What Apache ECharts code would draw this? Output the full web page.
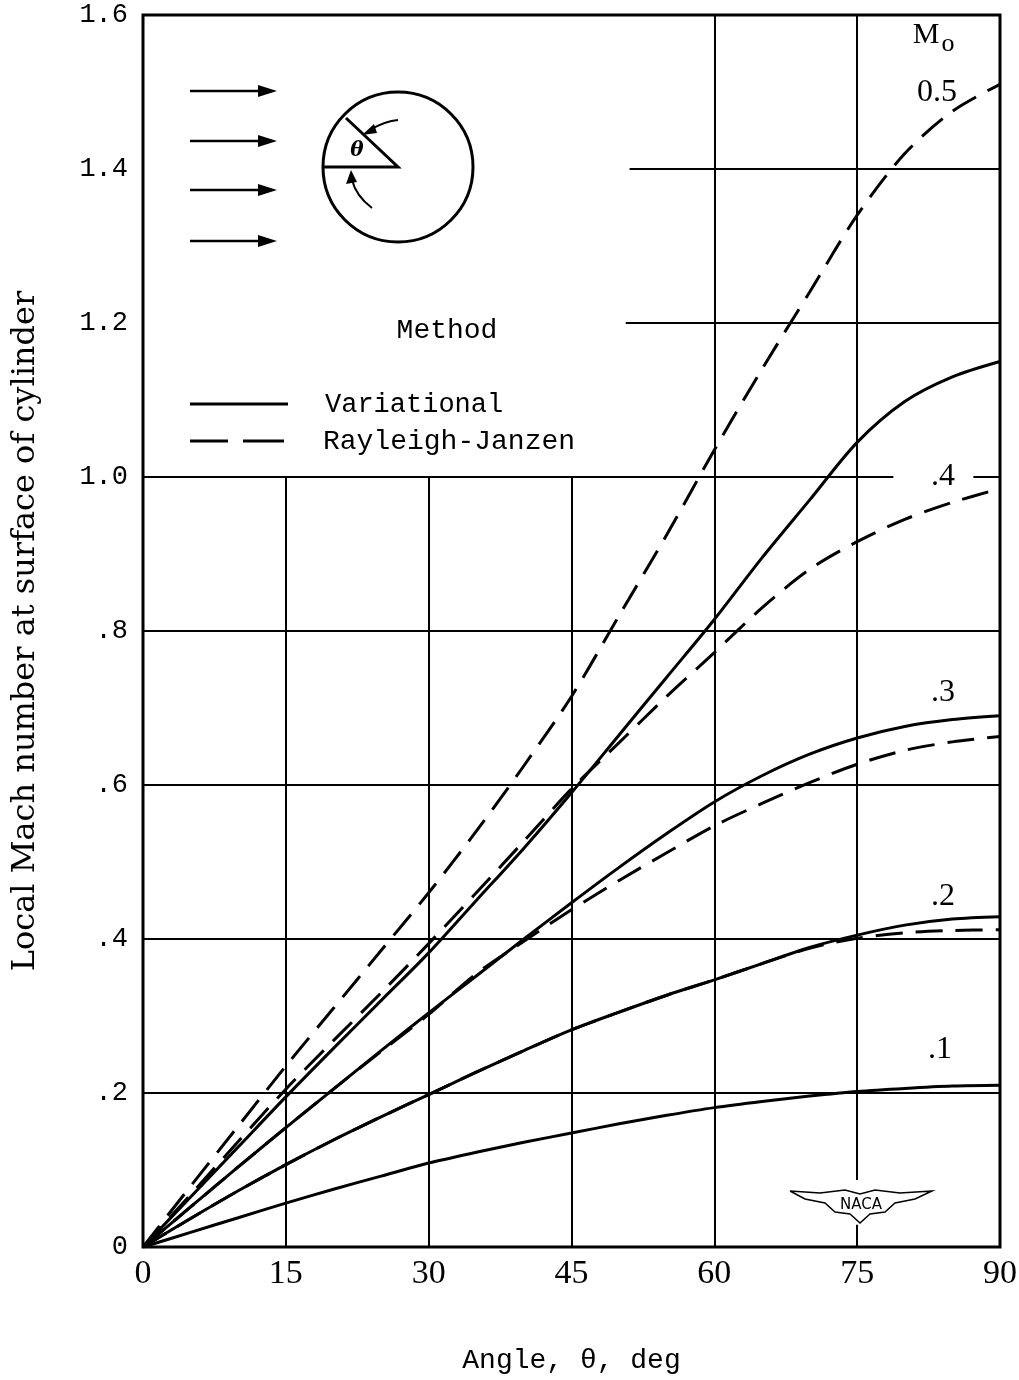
<!DOCTYPE html>
<html><head><meta charset="utf-8">
<script src="https://cdn.jsdelivr.net/npm/echarts@6/dist/echarts.min.js"></script>
<style>html,body{margin:0;padding:0;background:#fff}#c{width:1019px;height:1380px}</style>
</head><body><div id="c"></div>
<script>
// Angle, theta (deg)
const theta = [0, 5, 10, 15, 20, 25, 30, 35, 40, 45, 50, 55, 60, 65, 70, 75, 80, 85, 90];
// Variational method (solid)
const var01 = [0, 0.019, 0.038, 0.057, 0.075, 0.092, 0.109, 0.123, 0.136, 0.148, 0.160, 0.171, 0.181, 0.189, 0.196, 0.202, 0.206, 0.209, 0.210];
const var02 = [0, 0.037, 0.073, 0.107, 0.139, 0.169, 0.198, 0.227, 0.255, 0.282, 0.305, 0.327, 0.347, 0.368, 0.389, 0.405, 0.418, 0.426, 0.429];
const var03 = [0, 0.052, 0.104, 0.155, 0.205, 0.255, 0.304, 0.352, 0.400, 0.447, 0.493, 0.537, 0.578, 0.612, 0.640, 0.661, 0.676, 0.685, 0.690];
const var04 = [0, 0.065, 0.130, 0.195, 0.258, 0.320, 0.382, 0.450, 0.518, 0.590, 0.665, 0.740, 0.815, 0.895, 0.970, 1.045, 1.098, 1.130, 1.150];
// Rayleigh-Janzen method (dashed)
const rj02 = [0, 0.037, 0.073, 0.107, 0.139, 0.169, 0.198, 0.227, 0.255, 0.282, 0.305, 0.327, 0.347, 0.368, 0.388, 0.401, 0.408, 0.411, 0.412];
const rj03 = [0, 0.052, 0.104, 0.155, 0.205, 0.254, 0.302, 0.355, 0.397, 0.438, 0.476, 0.512, 0.547, 0.576, 0.603, 0.627, 0.645, 0.656, 0.663];
const rj04 = [0, 0.068, 0.137, 0.205, 0.268, 0.330, 0.394, 0.460, 0.527, 0.595, 0.655, 0.715, 0.772, 0.830, 0.880, 0.916, 0.945, 0.967, 0.985];
const rj05 = [0, 0.079, 0.157, 0.235, 0.310, 0.385, 0.460, 0.540, 0.625, 0.715, 0.820, 0.925, 1.035, 1.140, 1.240, 1.340, 1.420, 1.475, 1.510];
// Tick labels
const xTickLabels = ['0', '15', '30', '45', '60', '75', '90'];
const yTickLabels = ['0', '.2', '.4', '.6', '.8', '1.0', '1.2', '1.4', '1.6'];
// Curve labels (free-stream Mach number M0)
const curveLabels = ['0.5', '.4', '.3', '.2', '.1'];

// Partial grid segments [x, yFrom, yTo] and [y, xFrom, xTo]
const vGrid = [[15, 0, 1.0], [30, 0, 1.0], [45, 0, 1.0], [60, 0, 1.6], [75, 0, 0.029], [75, 0.087, 1.6]];
const hGrid = [[0.2, 0, 90], [0.4, 0, 90], [0.6, 0, 90], [0.8, 0, 90], [1.0, 0, 78.8], [1.0, 87.2, 90], [1.2, 50.7, 90], [1.4, 51.1, 90]];

const pairs = arr => theta.map((t, i) => [t, arr[i]]);
const SOLID = { color: '#000', width: 3, type: 'solid' };
const DASH = { color: '#000', width: 3, type: [27, 13] };

const gridLines = [];
vGrid.forEach(g => gridLines.push([{ coord: [g[0], g[1]] }, { coord: [g[0], g[2]] }]));
hGrid.forEach(g => gridLines.push([{ coord: [g[1], g[0]] }, { coord: [g[2], g[0]] }]));

function mk(name, arr, style, extra) {
  return Object.assign({
    name, type: 'line', data: pairs(arr), smooth: 0.3, symbol: 'none',
    lineStyle: style, silent: true, z: 5
  }, extra || {});
}

const MONO = 'Liberation Mono';
const SERIF = 'Liberation Serif';

const series = [
  mk('var01', var01, SOLID, {
    markLine: { silent: true, symbol: ['none', 'none'], label: { show: false },
      lineStyle: { color: '#000', width: 2, type: 'solid' }, data: gridLines, z: 2 }
  }),
  mk('var02', var02, SOLID),
  mk('var03', var03, SOLID),
  mk('var04', var04, SOLID),
  mk('rj02', rj02, DASH),
  mk('rj03', rj03, DASH),
  mk('rj04', rj04, DASH),
  mk('rj05', rj05, DASH)
];

// arrows for flow diagram
const arrowYs = [91, 141, 190, 241];
const graphics = [];
arrowYs.forEach(y => {
  graphics.push({ type: 'line', shape: { x1: 190, y1: y, x2: 264, y2: y }, style: { stroke: '#000', lineWidth: 2.5 } });
  graphics.push({ type: 'polygon', shape: { points: [[258, y - 6], [277, y], [258, y + 6]] }, style: { fill: '#000' } });
});
// cylinder
graphics.push({ type: 'circle', shape: { cx: 398, cy: 167, r: 75 }, style: { fill: 'none', stroke: '#000', lineWidth: 3 } });
graphics.push({ type: 'polyline', shape: { points: [[323, 167], [398, 167], [346, 118]] }, style: { fill: 'none', stroke: '#000', lineWidth: 3 } });
graphics.push({ type: 'bezierCurve', shape: { x1: 398, y1: 120, x2: 370, y2: 130, cpx1: 385, cpy1: 121 }, style: { fill: 'none', stroke: '#000', lineWidth: 2 } });
graphics.push({ type: 'polygon', shape: { points: [[362, 135], [374, 124], [377, 133]] }, style: { fill: '#000' } });
graphics.push({ type: 'bezierCurve', shape: { x1: 372, y1: 208, x2: 352, y2: 180, cpx1: 356, cpy1: 196 }, style: { fill: 'none', stroke: '#000', lineWidth: 2 } });
graphics.push({ type: 'polygon', shape: { points: [[351, 170], [346, 184], [357, 182]] }, style: { fill: '#000' } });
graphics.push({ type: 'text', style: { text: 'θ', x: 357, y: 151, font: 'italic bold 20px "DejaVu Serif"', fill: '#000', textAlign: 'center', textVerticalAlign: 'middle' } });

// legend block
graphics.push({ type: 'text', style: { text: 'Method', x: 447, y: 331, font: '28px "' + MONO + '"', fill: '#000', textAlign: 'center', textVerticalAlign: 'middle' } });
graphics.push({ type: 'line', shape: { x1: 190, y1: 404, x2: 288, y2: 404 }, style: { stroke: '#000', lineWidth: 3 } });
graphics.push({ type: 'text', style: { text: 'Variational', x: 325, y: 405, font: '27px "' + MONO + '"', fill: '#000', textAlign: 'left', textVerticalAlign: 'middle' } });
graphics.push({ type: 'line', shape: { x1: 190, y1: 441, x2: 228, y2: 441 }, style: { stroke: '#000', lineWidth: 3 } });
graphics.push({ type: 'line', shape: { x1: 243, y1: 441, x2: 284, y2: 441 }, style: { stroke: '#000', lineWidth: 3 } });
graphics.push({ type: 'text', style: { text: 'Rayleigh-Janzen', x: 323, y: 442, font: '28px "' + MONO + '"', fill: '#000', textAlign: 'left', textVerticalAlign: 'middle' } });

// M0 header and curve labels
graphics.push({ type: 'text', style: { text: 'M', x: 926, y: 35, font: '30px "' + SERIF + '"', fill: '#000', textAlign: 'center', textVerticalAlign: 'middle' } });
graphics.push({ type: 'text', style: { text: 'o', x: 948, y: 44, font: '26px "' + SERIF + '"', fill: '#000', textAlign: 'center', textVerticalAlign: 'middle' } });
const labelPos = [[937, 93], [943, 477], [943, 693], [943, 897], [940, 1050]];
curveLabels.forEach((t, i) => graphics.push({ type: 'text', style: { text: t, x: labelPos[i][0], y: labelPos[i][1], font: '32px "' + SERIF + '"', fill: '#000', textAlign: 'center', textVerticalAlign: 'middle' } }));

// NACA logo
graphics.push({ type: 'polyline', shape: { points: [[790, 1191], [820, 1193], [845, 1190], [860, 1194], [875, 1190], [900, 1193], [932, 1191], [915, 1199], [895, 1203], [885, 1212], [870, 1214], [860, 1223], [850, 1214], [835, 1212], [825, 1203], [805, 1199], [790, 1191]] }, style: { fill: '#fff', stroke: '#000', lineWidth: 1.5 }, z: 10 });
graphics.push({ type: 'text', style: { text: 'NACA', x: 861, y: 1205, font: '15px "DejaVu Sans"', fill: '#000', textAlign: 'center', textVerticalAlign: 'middle' }, z: 11 });

const chart = echarts.init(document.getElementById('c'), null, { renderer: 'canvas' });
chart.setOption({
  animation: false,
  backgroundColor: '#fff',
  grid: { left: 143, right: 19, top: 15, bottom: 133, containLabel: false, outerBoundsMode: 'none',
    show: true, borderColor: '#000', borderWidth: 3, backgroundColor: 'transparent' },
  xAxis: {
    type: 'value', min: 0, max: 90, interval: 15,
    axisLine: { show: false }, axisTick: { show: false }, splitLine: { show: false },
    axisLabel: { color: '#000', fontFamily: SERIF, fontSize: 34, margin: 10,
      formatter: v => xTickLabels[Math.round(v / 15)] },
    name: 'Angle, θ, deg', nameLocation: 'middle', nameGap: 100,
    nameTextStyle: { color: '#000', fontFamily: MONO, fontSize: 28 }
  },
  yAxis: {
    type: 'value', min: 0, max: 1.6, interval: 0.2,
    axisLine: { show: false }, axisTick: { show: false }, splitLine: { show: false },
    axisLabel: { color: '#000', fontFamily: MONO, fontSize: 27, margin: 15,
      formatter: v => yTickLabels[Math.round(v / 0.2)] },
    name: 'Local Mach number at surface of cylinder', nameLocation: 'middle', nameGap: 101,
    nameTextStyle: { color: '#000', fontFamily: 'DejaVu Serif', fontSize: 32 }
  },
  series,
  graphic: { elements: graphics }
});
</script></body></html>
